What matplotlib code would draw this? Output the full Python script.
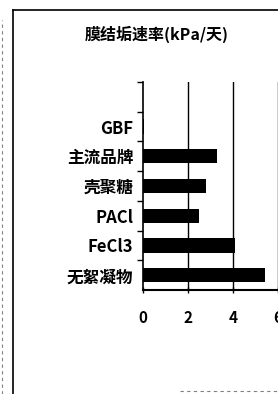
import matplotlib
matplotlib.use("Agg")
import matplotlib.pyplot as plt
from matplotlib.lines import Line2D

plt.rcParams['font.family'] = ['Noto Sans CJK SC', 'DejaVu Sans']

# categories from top to bottom (top slot is empty in the original)
labels = ['', 'GBF', '主流品牌', '壳聚糖', 'PACl', 'FeCl3', '无絮凝物']
values = [0, 0.05, 3.3, 2.8, 2.5, 4.1, 5.4]
xticks = [0, 2, 4, 6]

fig = plt.figure(figsize=(2.78, 3.94), dpi=100)
W, H = 278, 394

# axes placed in pixel terms: x=0 at 143px, x=6 at 278px, y from 82 to 290
ax = fig.add_axes([143 / W, 1 - 290 / H, 135 / W, 208 / H])

pos = list(range(len(labels)))[::-1]
ax.barh(pos, values, height=0.48, color='black', zorder=3)

ax.set_xlim(0, 6)
ax.set_ylim(-0.5, len(labels) - 0.5)
ax.set_xticks(xticks)
ax.set_xticklabels([str(t) for t in xticks], fontsize=11, fontweight='heavy')
ax.set_yticks(pos)
ax.set_yticklabels(labels, fontsize=12, fontweight='heavy')
ax.set_yticks([p + 0.5 for p in range(len(labels))], minor=True)
ax.tick_params(axis='y', which='major', length=0, pad=7)
ax.tick_params(axis='y', which='minor', length=4, width=1, direction='out')
ax.tick_params(axis='x', length=5, width=1, direction='inout', pad=12)

for x in xticks[1:]:
    ax.axvline(x, color='black', lw=1, zorder=1)

for s in ['top', 'right']:
    ax.spines[s].set_visible(False)
ax.spines['left'].set_linewidth(1.2)
ax.spines['bottom'].set_linewidth(1.5)

fig.text(157 / W, 1 - 34 / H, '膜结垢速率(kPa/天)', ha='center', va='center',
         fontsize=11.5, fontweight='heavy')

# scanned page frame
fig.add_artist(Line2D([13 / W, 13 / W], [0, 1 - 10 / H], color='black', lw=1.2))
fig.add_artist(Line2D([13 / W, 1], [1 - 10 / H, 1 - 10 / H], color='black', lw=1.2))
fig.add_artist(Line2D([2 / W, 2 / W], [0, 1 - 20 / H], color='gray', lw=0.8, ls=(0, (3, 3))))
fig.add_artist(Line2D([180 / W, 1], [1 - 391 / H, 1 - 391 / H], color='gray', lw=0.8, ls=(0, (3, 3))))

fig.savefig('out.png', dpi=100)
